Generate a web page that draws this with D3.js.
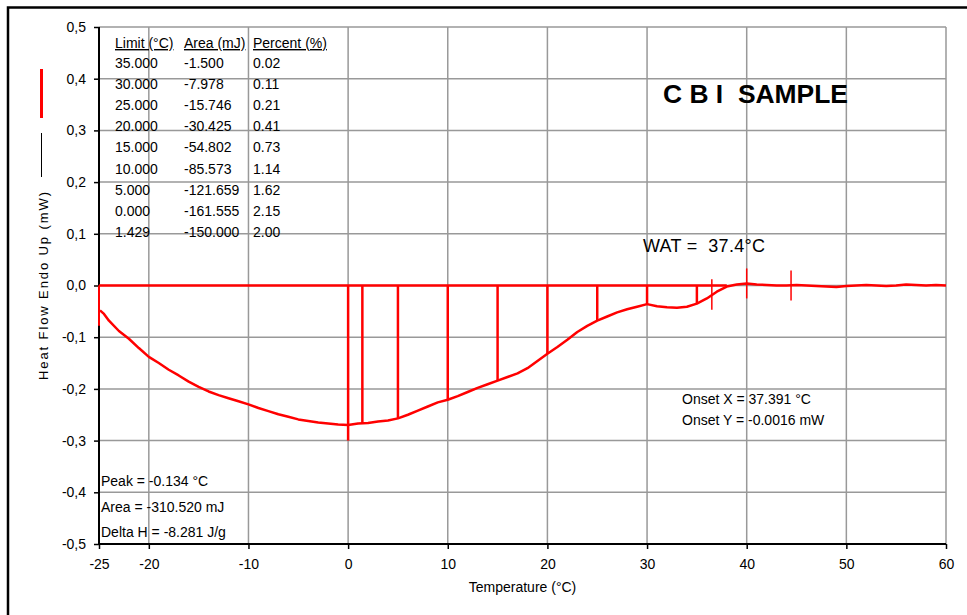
<!DOCTYPE html>
<html>
  <head>
    <title>C B I SAMPLE</title>
    <script src="https://cdn.jsdelivr.net/npm/d3@7"></script>
    <style>
      body { margin: 0; background: #fff; }
      text { font-family: "Liberation Sans", Arial, sans-serif; fill: #000; }
    </style>
  </head>
  <body>
    <svg width="967" height="615" id="mainsvg"></svg>
    <script>
      // curve
      const temps = [-25, -24.9, -24.5, -24, -23, -22, -21, -20, -19, -18, -17, -16, -15, -14, -13, -12, -11, -10,
        -9, -8, -7, -6, -5, -4, -3, -2, -1, 0, 1, 2, 3, 4, 5, 6, 7, 8, 9, 10, 11, 12, 13, 14, 15, 16, 17, 18, 19, 20,
        21, 22, 23, 24, 25, 26, 27, 28, 29, 30, 31, 32, 33, 34, 35, 36, 37, 38, 39, 40, 41, 42, 43, 44, 45, 46, 47,
        48, 49, 50, 51, 52, 53, 54, 55, 56, 57, 58, 59, 60];
      const heatFlow = [-0.078, -0.048, -0.055, -0.068, -0.088, -0.103, -0.121, -0.138, -0.150, -0.163, -0.174, -0.186,
        -0.196, -0.205, -0.212, -0.218, -0.224, -0.230, -0.237, -0.243, -0.249, -0.254, -0.259, -0.262, -0.265, -0.267,
        -0.269, -0.270, -0.267, -0.266, -0.263, -0.261, -0.257, -0.250, -0.242, -0.234, -0.226, -0.221, -0.214, -0.206,
        -0.198, -0.191, -0.184, -0.177, -0.170, -0.160, -0.146, -0.132, -0.119, -0.105, -0.090, -0.078, -0.068, -0.060,
        -0.052, -0.046, -0.041, -0.036, -0.040, -0.042, -0.043, -0.041, -0.035, -0.025, -0.012, -0.002, 0.002, 0.004,
        0.002, 0.001, 0.000, 0.000, 0.001, 0.000, -0.001, -0.002, -0.003, -0.001, 0.000, 0.001, 0.000, -0.001, 0.000,
        0.002, 0.001, 0.000, 0.001, 0.000];

      // partial area limits (vertical drop lines)
      const limits = [0, 1.429, 5, 10, 15, 20, 25, 30, 35];
      const limitBottom = [-0.300, -0.266, -0.257, -0.221, -0.184, -0.132, -0.068, -0.036, -0.035];
      // small cursor marks
      const markX = [36.5, 40, 44.45];
      const markTop = [0.012, 0.033, 0.029];
      const markBottom = [-0.047, -0.025, -0.029];

      const xTicks = [-25, -20, -10, 0, 10, 20, 30, 40, 50, 60];
      const xGrid = [-20, -10, 0, 10, 20, 30, 40, 50, 60];
      const yTicks = [-0.5, -0.4, -0.3, -0.2, -0.1, 0, 0.1, 0.2, 0.3, 0.4, 0.5];

      const tableHead = ['Limit (°C)', 'Area (mJ)', 'Percent (%)'];
      const tableLimit = ['35.000', '30.000', '25.000', '20.000', '15.000', '10.000', '5.000', '0.000', '1.429'];
      const tableArea = ['-1.500', '-7.978', '-15.746', '-30.425', '-54.802', '-85.573', '-121.659', '-161.555', '-150.000'];
      const tablePct = ['0.02', '0.11', '0.21', '0.41', '0.73', '1.14', '1.62', '2.15', '2.00'];
      const peakLines = ['Peak = -0.134 °C', 'Area = -310.520 mJ', 'Delta H = -8.281 J/g'];
      const onsetLines = ['Onset X = 37.391 °C', 'Onset Y = -0.0016 mW'];

      const svg = d3.select('#mainsvg');
      const margin = {top: 27, right: 21, bottom: 71, left: 99};
      const width = +svg.attr('width');
      const height = +svg.attr('height');

      const xScale = d3.scaleLinear().domain([-25, 60]).range([margin.left, width - margin.right]);
      const yScale = d3.scaleLinear().domain([-0.5, 0.5]).range([height - margin.bottom, margin.top]);
      const red = '#ff0000';

      // outer frame
      svg.append('path').attr('d', 'M8,615 V7.5 H967')
        .attr('fill', 'none').attr('stroke', '#000').attr('stroke-width', 2.5);

      // grid
      const grid = svg.append('g');
      grid.selectAll('.vg').data(xGrid).join('line')
        .attr('x1', d => xScale(d)).attr('x2', d => xScale(d))
        .attr('y1', yScale(0.5)).attr('y2', yScale(-0.5))
        .attr('stroke', '#999').attr('stroke-width', 1.5);
      grid.selectAll('.hg').data(yTicks).join('line')
        .attr('x1', xScale(-25)).attr('x2', xScale(60))
        .attr('y1', d => yScale(d)).attr('y2', d => yScale(d))
        .attr('stroke', '#999').attr('stroke-width', 1.5);

      // axes (plain hyphen minus, comma decimal)
      const fmtY = d => d3.format('.1f')(d).replace('−', '-').replace('.', ',');
      const fmtX = d => String(d);
      const yAxis = svg.append('g').attr('transform', `translate(${margin.left},0)`)
        .call(d3.axisLeft(yScale).tickValues(yTicks).tickFormat(fmtY).tickSize(5).tickPadding(8));
      const xAxis = svg.append('g').attr('transform', `translate(0,${height - margin.bottom})`)
        .call(d3.axisBottom(xScale).tickValues(xTicks).tickFormat(fmtX).tickSize(5).tickPadding(10));
      [xAxis, yAxis].forEach(a => {
        a.select('.domain').attr('stroke', '#000').attr('stroke-width', 2);
        a.selectAll('.tick line').attr('stroke', '#000').attr('stroke-width', 1.5);
        a.selectAll('.tick text').attr('font-size', 14).attr('font-family', '"Liberation Sans", Arial, sans-serif');
      });
      yAxis.select('.domain').attr('d', `M0,${yScale(0.5)}V${yScale(-0.5)}`);
      xAxis.select('.domain').attr('d', `M${xScale(-25)},0H${xScale(60)}`);
      yAxis.selectAll('.tick text').attr('x', -13);

      // axis titles
      svg.append('text').attr('x', xScale(17.5)).attr('y', 592)
        .attr('text-anchor', 'middle').attr('font-size', 14).text('Temperature (°C)');
      svg.append('text').attr('transform', 'translate(48,380) rotate(-90)')
        .attr('font-size', 13).attr('textLength', 188).attr('lengthAdjust', 'spacing')
        .text('Heat Flow Endo Up (mW)');
      svg.append('line').attr('x1', 41.5).attr('x2', 41.5).attr('y1', 133).attr('y2', 177)
        .attr('stroke', '#000').attr('stroke-width', 1);
      svg.append('line').attr('x1', 41.5).attr('x2', 41.5).attr('y1', 69).attr('y2', 118)
        .attr('stroke', red).attr('stroke-width', 3);

      // baseline, drop lines, curve
      const plot = svg.append('g');
      plot.append('line')
        .attr('x1', xScale(-25)).attr('x2', xScale(38))
        .attr('y1', yScale(0)).attr('y2', yScale(0))
        .attr('stroke', red).attr('stroke-width', 2.5);
      plot.append('line')
        .attr('x1', xScale(-25)).attr('x2', xScale(-25))
        .attr('y1', yScale(0)).attr('y2', yScale(heatFlow[0]))
        .attr('stroke', red).attr('stroke-width', 2);
      plot.selectAll('.drop').data(limits).join('line')
        .attr('x1', d => xScale(d)).attr('x2', d => xScale(d))
        .attr('y1', yScale(0)).attr('y2', (d, i) => yScale(limitBottom[i]))
        .attr('stroke', red).attr('stroke-width', 2.5);
      plot.selectAll('.mark').data(markX).join('line')
        .attr('x1', d => xScale(d)).attr('x2', d => xScale(d))
        .attr('y1', (d, i) => yScale(markTop[i])).attr('y2', (d, i) => yScale(markBottom[i]))
        .attr('stroke', red).attr('stroke-width', 1.5);
      const line = d3.line().x(d => xScale(d[0])).y(d => yScale(d[1]));
      plot.append('path').datum(temps.map((t, i) => [t, heatFlow[i]]).slice(1))
        .attr('d', line).attr('fill', 'none')
        .attr('stroke', red).attr('stroke-width', 2.5).attr('stroke-linejoin', 'round');

      // results table
      const cols = [115, 184, 253];
      const tbl = svg.append('g').attr('font-size', 14);
      tbl.selectAll('.th').data(tableHead).join('text')
        .attr('x', (d, i) => cols[i]).attr('y', 48)
        .attr('text-decoration', 'underline').text(d => d);
      [tableLimit, tableArea, tablePct].forEach((col, c) => {
        tbl.selectAll('.c' + c).data(col).join('text')
          .attr('x', cols[c]).attr('y', (d, i) => 68 + i * 21.1).text(d => d);
      });

      svg.selectAll('.peak').data(peakLines).join('text')
        .attr('x', 101).attr('y', (d, i) => 486 + i * 25.5)
        .attr('font-size', 14).text(d => d);
      svg.selectAll('.onset').data(onsetLines).join('text')
        .attr('x', 682).attr('y', (d, i) => 404 + i * 21)
        .attr('font-size', 14).text(d => d);

      svg.append('text').attr('x', 643).attr('y', 251.5).attr('font-size', 18)
        .attr('textLength', 122).text('WAT =  37.4°C').style('white-space', 'pre');
      svg.append('text').attr('x', 663).attr('y', 103).attr('font-size', 26).attr('font-weight', 'bold')
        .attr('textLength', 185).attr('lengthAdjust', 'spacingAndGlyphs')
        .style('white-space', 'pre').text('C B I  SAMPLE');
    </script>
  </body>
</html>
